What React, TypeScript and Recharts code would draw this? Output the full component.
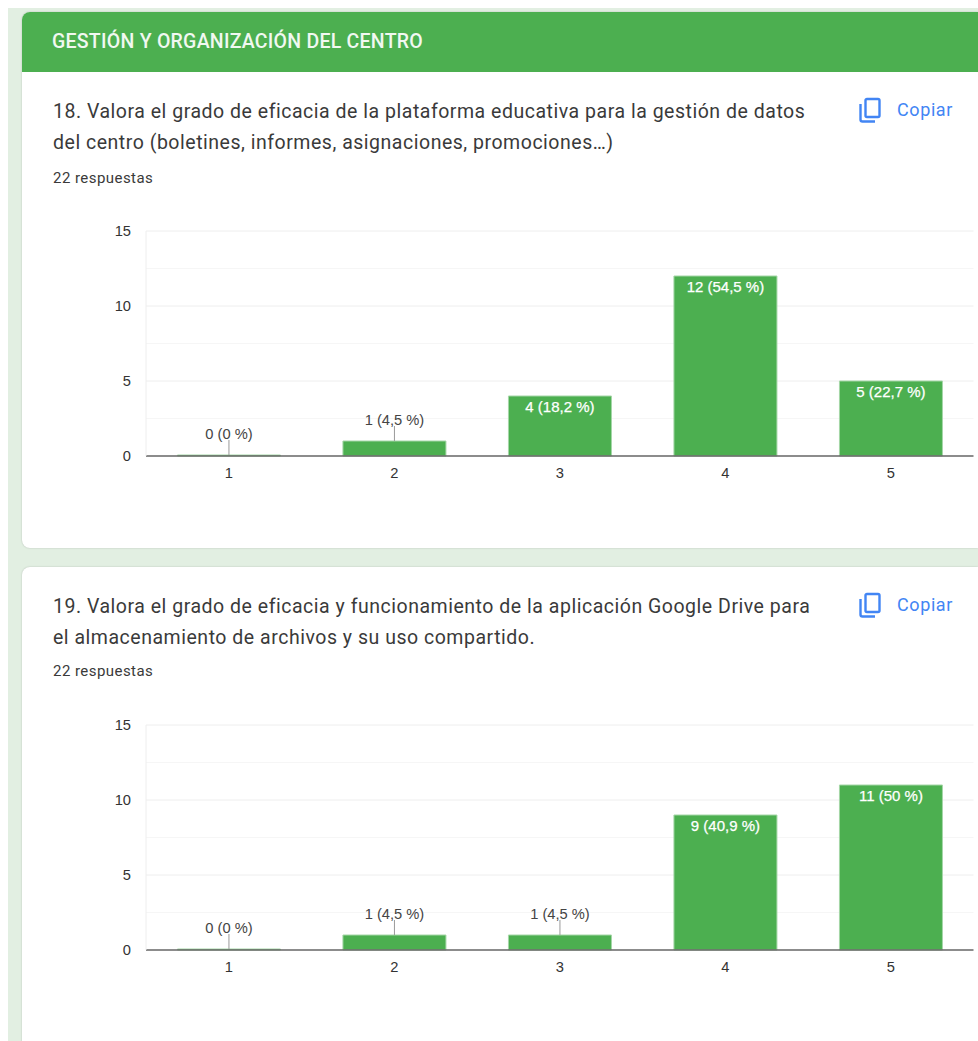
import { BarChart, Bar, XAxis, YAxis, CartesianGrid, LabelList } from 'recharts';

const CATEGORIES = ['1', '2', '3', '4', '5'];
const Y_TICKS = [0, 5, 10, 15];
const MINOR_LINES = [2.5, 7.5, 12.5];
const MAJOR_LINES = [5, 10, 15];

const VALUES_18 = [0, 1, 4, 12, 5];
const LABELS_18 = ['0 (0 %)', '1 (4,5 %)', '4 (18,2 %)', '12 (54,5 %)', '5 (22,7 %)'];
const VALUES_19 = [0, 1, 1, 9, 11];
const LABELS_19 = ['0 (0 %)', '1 (4,5 %)', '1 (4,5 %)', '9 (40,9 %)', '11 (50 %)'];

const GREEN = '#4caf50';
const CHART_FONT = '"Liberation Sans", Arial, sans-serif';
const CHART_FONT_SIZE = 14.7;

// Small values get a leader line and a label above the bar, big ones go inside in white
function BarLabel(props: any) {
  const { x, y, width, height, value } = props;
  const cx = x + width / 2;
  if (height > 30) {
    return (
      <text x={cx} y={y + 16} textAnchor="middle" fill="#fff" stroke="#fff" strokeWidth={0.25} fontSize={15} fontFamily={CHART_FONT}>
        {value}
      </text>
    );
  }
  return (
    <g>
      <line x1={cx} x2={cx} y1={y} y2={y - 15} stroke="#999" strokeWidth={1} />
      <text x={cx} y={y - 16} textAnchor="middle" fill="#444" fontSize={CHART_FONT_SIZE} fontFamily={CHART_FONT}>
        {value}
      </text>
    </g>
  );
}

function Chart({ values, labels }: { values: number[]; labels: string[] }) {
  const data = CATEGORIES.map((name, i) => ({ name, value: values[i], label: labels[i] }));
  return (
    <BarChart
      width={900}
      height={270}
      data={data}
      margin={{ top: 16, right: 4.5, left: 0, bottom: 0 }}
      barCategoryGap="19%"
      style={{ position: 'absolute', left: 78, top: 0 }}
    >
      <CartesianGrid vertical={false} stroke="#f6f6f6" horizontalValues={MINOR_LINES} />
      <CartesianGrid vertical={false} stroke="#eeeeee" horizontalValues={MAJOR_LINES} />
      <XAxis
        dataKey="name"
        axisLine={{ stroke: '#666', strokeWidth: 1.5 }}
        tickLine={false}
        height={29}
        tickMargin={6}
        tick={{ fill: '#333', fontSize: CHART_FONT_SIZE, fontFamily: CHART_FONT }}
      />
      <YAxis
        domain={[0, 15]}
        ticks={Y_TICKS}
        width={68}
        axisLine={{ stroke: '#eeeeee' }}
        tickLine={false}
        tickMargin={9}
        tick={{ fill: '#333', fontSize: CHART_FONT_SIZE, fontFamily: CHART_FONT }}
      />
      <Bar dataKey="value" fill={GREEN} stroke="#a5d6a7" strokeWidth={1} minPointSize={1} isAnimationActive={false}>
        <LabelList dataKey="label" content={(p: any) => <BarLabel {...p} />} />
      </Bar>
    </BarChart>
  );
}

function CopyButton({ top }: { top: number }) {
  return (
    <div style={{ position: 'absolute', left: 858, top, width: 110, height: 28 }}>
      <svg width={26} height={28} viewBox="0 0 26 28" style={{ position: 'absolute', left: 0, top: 0 }}>
        <rect x={7.5} y={2} width={14} height={18} rx={1.5} fill="none" stroke="#4285f4" strokeWidth={2.4} />
        <path d="M2.5 7 V22.5 a2 2 0 0 0 2 2 H17" fill="none" stroke="#4285f4" strokeWidth={2.4} />
      </svg>
      <span style={{ position: 'absolute', left: 39, top: 2, fontSize: 18, color: '#4285f4', letterSpacing: 0.6 }}>Copiar</span>
    </div>
  );
}

function Card({ top, height }: { top: number; height: number }) {
  return (
    <div
      style={{
        position: 'absolute',
        left: 22,
        top,
        width: 956,
        height,
        background: '#fff',
        borderRadius: '8px 0 0 8px',
        boxShadow: '0 0 2px rgba(0,0,0,0.2)',
      }}
    />
  );
}

function QuestionText({ top, countTop, line1, line2 }: { top: number; countTop: number; line1: string; line2: string }) {
  return (
    <>
      <div style={{ position: 'absolute', left: 53, top, color: '#3a3a3a', fontSize: 19.5, lineHeight: '31px', letterSpacing: 0.52, whiteSpace: 'nowrap' }}>
        {line1}
        <br />
        {line2}
      </div>
      <div style={{ position: 'absolute', left: 53, top: countTop, color: '#3a3a3a', fontSize: 15, letterSpacing: 0.45, whiteSpace: 'nowrap' }}>22 respuestas</div>
    </>
  );
}

export default function App() {
  return (
    <div
      style={{
        position: 'absolute',
        left: 0,
        top: 0,
        width: 978,
        height: 1041,
        overflow: 'hidden',
        background: '#fff',
        fontFamily: 'Roboto, sans-serif',
      }}
    >
      <div style={{ position: 'absolute', left: 8, top: 8, width: 970, height: 1033, background: '#e2efe2' }} />

      {/* first card */}
      <Card top={12} height={536} />
      <div
        style={{
          position: 'absolute',
          left: 22,
          top: 12,
          width: 956,
          height: 60,
          background: GREEN,
          borderRadius: '8px 0 0 0',
        }}
      />
      <div style={{ position: 'absolute', left: 52, top: 30, color: '#f1f8f1', fontSize: 19.5, fontWeight: 500, letterSpacing: 0.25, whiteSpace: 'nowrap' }}>
        GESTIÓN Y ORGANIZACIÓN DEL CENTRO
      </div>
      <QuestionText
        top={96}
        countTop={169}
        line1="18. Valora el grado de eficacia de la plataforma educativa para la gestión de datos"
        line2="del centro (boletines, informes, asignaciones, promociones…)"
      />
      <CopyButton top={97} />
      <div style={{ position: 'absolute', left: 0, top: 215, width: 978, height: 270 }}>
        <Chart values={VALUES_18} labels={LABELS_18} />
      </div>

      {/* second card */}
      <Card top={567} height={490} />
      <QuestionText
        top={591}
        countTop={662}
        line1="19. Valora el grado de eficacia y funcionamiento de la aplicación Google Drive para"
        line2="el almacenamiento de archivos y su uso compartido."
      />
      <CopyButton top={592} />
      <div style={{ position: 'absolute', left: 0, top: 709, width: 978, height: 270 }}>
        <Chart values={VALUES_19} labels={LABELS_19} />
      </div>
    </div>
  );
}
